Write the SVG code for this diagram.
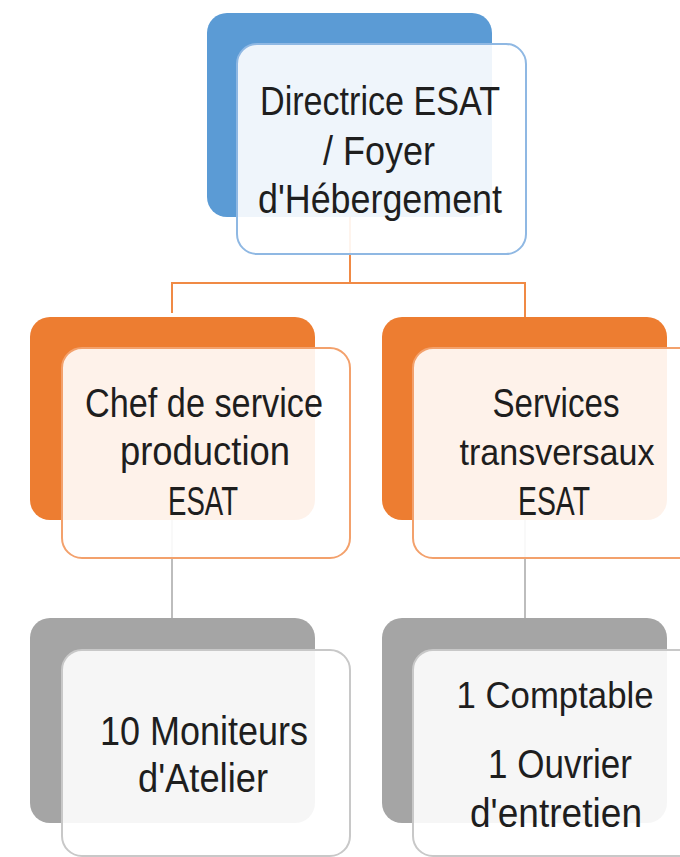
<svg xmlns="http://www.w3.org/2000/svg" width="680" height="857" viewBox="0 0 680 857">
<style>
.back{stroke:none}
.front{fill:#ffffff;fill-opacity:0.9;stroke-width:2}
.t{font-family:"Liberation Sans",Arial,sans-serif;font-size:40px;fill:#1e1e1e;text-anchor:middle}
.s{font-size:37px}
.oc{stroke:#F08A45;stroke-width:2;fill:none}
.gc{stroke:#BDBDBD;stroke-width:2;fill:none}
</style>
<rect width="680" height="857" fill="#ffffff"/>
<g id="connectors">
<path class="oc" d="M350 217 V283 M172 313 V283 H525 V317"/>
<path class="gc" d="M172 520 V618"/>
<path class="gc" d="M525 520 V618"/>
</g>
<g id="node-directrice">
<rect class="back" x="207" y="13" width="285" height="204" rx="20" fill="#5B9BD5"/>
<rect class="front" x="237" y="44" width="289" height="210" rx="20" stroke="#8FB8E3"/>
<text class="t" x="380" y="115" textLength="240" lengthAdjust="spacingAndGlyphs">Directrice ESAT</text>
<text class="t" x="379" y="165" textLength="112" lengthAdjust="spacingAndGlyphs">/ Foyer</text>
<text class="t" x="380" y="213" textLength="244" lengthAdjust="spacingAndGlyphs">d'Hébergement</text>
</g>
<g id="node-chef">
<rect class="back" x="30" y="317" width="285" height="203" rx="20" fill="#ED7D31"/>
<rect class="front" x="62" y="348" width="288" height="210" rx="20" stroke="#F3A16C"/>
<text class="t" x="204" y="417" textLength="238" lengthAdjust="spacingAndGlyphs">Chef de service</text>
<text class="t" x="205" y="465" textLength="170" lengthAdjust="spacingAndGlyphs">production</text>
<text class="t" x="203" y="515" textLength="70" lengthAdjust="spacingAndGlyphs">ESAT</text>
</g>
<g id="node-services">
<rect class="back" x="382" y="317" width="285" height="203" rx="20" fill="#ED7D31"/>
<path class="front" d="M680 348 H433 A20 20 0 0 0 413 368 V538 A20 20 0 0 0 433 558 H680" stroke="#F3A16C"/>
<text class="t" x="556" y="417" textLength="127" lengthAdjust="spacingAndGlyphs">Services</text>
<text class="t s" x="557" y="465" textLength="195" lengthAdjust="spacingAndGlyphs">transversaux</text>
<text class="t" x="554" y="515" textLength="72" lengthAdjust="spacingAndGlyphs">ESAT</text>
</g>
<g id="node-moniteurs">
<rect class="back" x="30" y="618" width="285" height="205" rx="20" fill="#A5A5A5"/>
<rect class="front" x="62" y="650" width="288" height="206" rx="20" stroke="#C8C8C8"/>
<text class="t" x="204" y="745" textLength="208" lengthAdjust="spacingAndGlyphs">10 Moniteurs</text>
<text class="t" x="203" y="792" textLength="130" lengthAdjust="spacingAndGlyphs">d'Atelier</text>
</g>
<g id="node-personnel">
<rect class="back" x="382" y="618" width="285" height="205" rx="20" fill="#A5A5A5"/>
<path class="front" d="M680 650 H433 A20 20 0 0 0 413 670 V836 A20 20 0 0 0 433 856 H680" stroke="#C8C8C8"/>
<text class="t s" x="555" y="708" textLength="197" lengthAdjust="spacingAndGlyphs">1 Comptable</text>
<text class="t" x="560" y="778" textLength="144" lengthAdjust="spacingAndGlyphs">1 Ouvrier</text>
<text class="t" x="556" y="827" textLength="172" lengthAdjust="spacingAndGlyphs">d'entretien</text>
</g>
</svg>
